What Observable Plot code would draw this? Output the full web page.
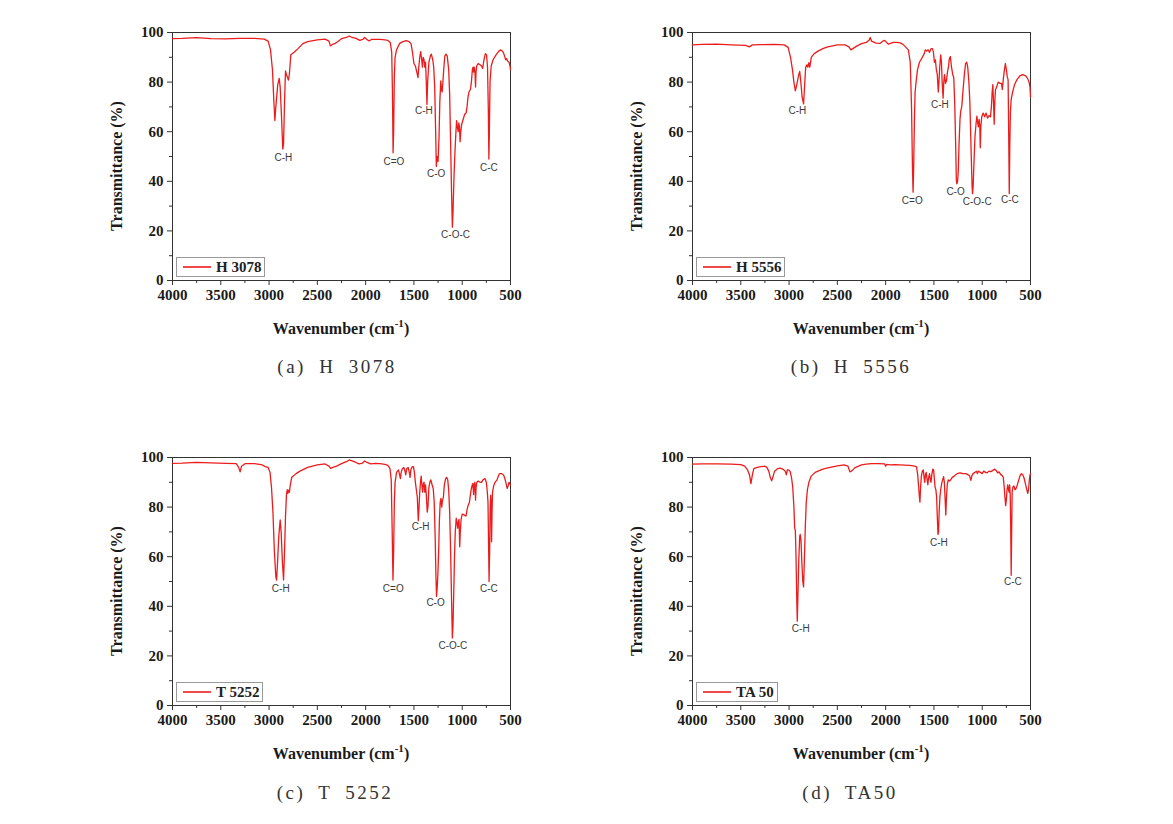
<!DOCTYPE html>
<html><head><meta charset="utf-8">
<script src="https://cdn.jsdelivr.net/npm/d3@7"></script>
<script src="https://cdn.jsdelivr.net/npm/@observablehq/plot@0.6"></script>
<style>
body{margin:0;background:#fff;}
#root{position:relative;width:1173px;height:824px;overflow:hidden;background:#fff;}
.panel{position:absolute;}
.caption{position:absolute;font-family:"Liberation Serif",serif;font-size:19px;color:#333;letter-spacing:2.5px;word-spacing:6px;white-space:pre;transform:translate(-50%,-50%);}
.legend{position:absolute;box-sizing:border-box;border:1px solid #999;background:#fff;display:flex;align-items:center;height:20px;padding:0 3px 0 5px;font-family:"Liberation Serif",serif;font-weight:bold;font-size:15px;color:#222;}
.legend svg{margin-right:4px;}
</style></head><body><div id="root"></div>
<script>
// ---- data (wavenumber cm-1, transmittance %) ----
const xMajor = [4000, 3500, 3000, 2500, 2000, 1500, 1000, 500];
const xMinor = [3750, 3250, 2750, 2250, 1750, 1250, 750];
const yMajor = [0, 20, 40, 60, 80, 100];
const yMinor = [10, 30, 50, 70, 90];

const h3078 = [[4000,97.5],[3900,97.6],[3750,97.9],[3600,97.5],[3450,97.4],[3300,97.6],[3150,97.6],[3050,97.3],[3010,96.5],[2985,93],[2965,85],[2950,72],[2940,64.5],[2930,70],[2910,79],[2895,81.5],[2885,78],[2870,65],[2858,53],[2850,55],[2840,72],[2830,84.5],[2820,83],[2810,82],[2800,80.8],[2790,83],[2775,91],[2740,92],[2700,93.5],[2650,95.5],[2600,96.3],[2500,97],[2420,97.3],[2380,96.5],[2365,94.6],[2345,95.2],[2320,95.5],[2290,96.3],[2250,97.5],[2200,98],[2170,98.6],[2140,98],[2100,97.6],[2060,96.8],[2030,97.2],[2010,98],[1990,97.3],[1965,96.6],[1940,97.2],[1900,97.2],[1850,97.2],[1800,97],[1770,96.8],[1745,96],[1730,92],[1722,75],[1716,51.5],[1710,60],[1703,82],[1695,90],[1680,93],[1650,95.5],[1620,96.2],[1580,96.7],[1550,96.3],[1530,95.5],[1515,92],[1500,87.5],[1485,86.5],[1470,84],[1458,81.8],[1450,86],[1440,90],[1430,92.3],[1420,89],[1412,86],[1405,90],[1395,89],[1388,86],[1380,88],[1372,80],[1365,71],[1358,80],[1345,88],[1330,90.5],[1320,91.3],[1305,89],[1295,86],[1285,78],[1275,60],[1268,46],[1260,50],[1250,48],[1240,58],[1232,72],[1222,80.5],[1215,77],[1208,76],[1200,80],[1190,86],[1180,90.5],[1168,91.3],[1155,90.5],[1140,85],[1130,75],[1120,55],[1110,35],[1102,21.5],[1095,28],[1085,42],[1075,52],[1065,60],[1058,64.5],[1050,62],[1042,60],[1035,63.5],[1028,62],[1022,56],[1015,60],[1005,63],[990,65],[975,67],[960,67.5],[950,70],[940,74],[930,76],[915,77],[905,80],[895,85],[888,86],[882,84],[875,86],[868,84],[862,78],[857,84],[850,86.5],[835,87.5],[815,87],[800,86.5],[788,85.5],[775,89],[760,91.5],[748,91],[738,86],[730,70],[724,49],[718,62],[712,80],[700,86.5],[680,89],[650,91],[620,92.5],[600,93],[580,92.3],[565,91],[550,89],[540,89.5],[530,88.5],[515,88],[505,86.5],[500,85]];

const h5556 = [[4000,95],[3900,95.2],[3750,95.3],[3600,95],[3450,94.8],[3410,94.2],[3380,95],[3300,95.1],[3150,95.2],[3050,95],[3010,94],[2985,90],[2965,85],[2950,80],[2935,76.5],[2920,79],[2900,83],[2890,84.3],[2878,80],[2865,74],[2850,71.2],[2840,78],[2828,86],[2815,87],[2805,86],[2795,87.8],[2785,86],[2770,90],[2740,91.5],[2700,92.5],[2650,93.5],[2600,94.2],[2500,95],[2420,95],[2380,94.2],[2360,93],[2340,93.5],[2300,94.5],[2250,95.5],[2200,96],[2170,97],[2160,98],[2145,96.5],[2100,95.7],[2060,95.6],[2030,96.5],[2010,96.8],[1990,96],[1970,95.3],[1950,95.6],[1920,96],[1880,96],[1850,95.8],[1820,95.2],[1790,94],[1765,93],[1745,88],[1732,70],[1722,45],[1716,35.6],[1710,45],[1702,65],[1695,76],[1685,80],[1670,85],[1650,88],[1620,90],[1600,91.5],[1590,93],[1575,92.5],[1560,93],[1545,92],[1530,93.5],[1515,93.5],[1505,92],[1495,88],[1485,89],[1475,85],[1465,83],[1455,76],[1448,80],[1440,86],[1430,91],[1422,88],[1415,80],[1405,73.5],[1398,80],[1390,83],[1380,79.5],[1370,80.5],[1360,84],[1350,86],[1340,89.5],[1330,90.3],[1318,86],[1305,83],[1295,82],[1285,72],[1275,55],[1268,40.5],[1262,39],[1255,40],[1248,44],[1240,55],[1230,65],[1222,68.5],[1212,70],[1200,76],[1185,83],[1172,87.5],[1160,88],[1150,86],[1138,80],[1128,72],[1120,60],[1112,48],[1105,38],[1100,35],[1094,38],[1085,48],[1075,58],[1062,64],[1055,66.3],[1048,64],[1040,62],[1032,65],[1025,62],[1020,53.5],[1014,62],[1005,66],[990,67.5],[975,66],[960,67.5],[945,65.5],[930,66.5],[915,66],[905,70],[897,76],[890,79],[883,72],[876,63],[870,72],[862,77],[850,78],[835,80],[815,79.5],[800,79.5],[792,77],[782,81],[770,85],[760,87.5],[750,85],[740,82],[732,81],[726,60],[720,35],[714,55],[708,68],[700,73],[685,76],[665,79],[640,81],[610,82.5],[580,83],[550,82.5],[530,81.5],[515,80],[505,78],[500,74]];

const t5252 = [[4000,97.6],[3900,97.7],[3750,98],[3600,97.8],[3450,97.6],[3340,97.5],[3315,96],[3300,94.2],[3285,96.5],[3250,97.5],[3150,97.5],[3070,97],[3040,96.3],[3010,96],[2990,94],[2975,88],[2960,78],[2945,62],[2930,52],[2922,50.6],[2912,58],[2900,68],[2885,74.8],[2875,70],[2862,58],[2850,50.6],[2840,62],[2830,76],[2820,85],[2812,87],[2805,85.5],[2798,86.8],[2790,86],[2780,89],[2765,92],[2720,93.5],[2680,94.5],[2600,96],[2500,97],[2420,97.4],[2380,96.5],[2362,95.6],[2340,96],[2300,96.5],[2250,97.5],[2200,98.3],[2170,99],[2140,98.6],[2100,98],[2070,97.4],[2040,97.6],[2010,98.6],[1985,98],[1950,97.4],[1900,97.6],[1850,97.5],[1800,97.2],[1770,96.8],[1748,95.5],[1735,91],[1725,70],[1717,50.6],[1710,62],[1703,82],[1695,90],[1680,94],[1660,95],[1648,93],[1640,91.5],[1632,94],[1620,95.5],[1605,96],[1595,95],[1585,93],[1575,95.5],[1560,96],[1548,94],[1540,92],[1532,95],[1520,96.2],[1505,96.3],[1495,94],[1485,90],[1475,87],[1465,84],[1455,74.5],[1447,80],[1440,86],[1432,90],[1425,92.5],[1418,89],[1410,86],[1402,89.5],[1395,90],[1388,86],[1380,89],[1372,85],[1362,78],[1355,80],[1345,88],[1335,90],[1325,91],[1312,89],[1300,87.5],[1290,82],[1280,68],[1272,52],[1266,44],[1260,47],[1252,53],[1244,62],[1236,75],[1228,82],[1220,83.5],[1212,80],[1205,82.5],[1195,84],[1185,89],[1172,91.5],[1162,92],[1150,91],[1140,87],[1130,78],[1120,62],[1110,42],[1102,27.2],[1095,33],[1088,45],[1080,60],[1072,70],[1062,75.5],[1055,74],[1047,71.5],[1040,74],[1033,75],[1026,64],[1020,70],[1012,75],[1000,77.2],[985,77],[970,76.5],[960,76.5],[950,79],[940,80.5],[925,82],[912,86],[900,88.5],[890,89.5],[882,85],[875,89.5],[868,90],[862,82.8],[856,88],[848,90],[835,90.5],[815,90],[800,90],[785,91],[765,91.5],[750,90],[740,86],[733,82],[727,65],[722,50],[716,62],[710,80],[705,84.8],[700,82],[696,66],[691,78],[686,86],[675,88.5],[660,90],[640,91],[615,93.5],[590,93.5],[570,92.8],[555,91],[545,89.5],[535,87.5],[525,88.5],[515,90],[508,89.5],[500,89]];

const ta50 = [[4000,97.3],[3900,97.4],[3750,97.4],[3600,97.3],[3500,97.1],[3460,96.5],[3430,95],[3410,93],[3395,89.5],[3380,93],[3365,95.5],[3330,96],[3290,96.3],[3250,96.5],[3230,96],[3210,94.5],[3195,92],[3180,90.6],[3165,92.5],[3150,94.5],[3120,95.5],[3090,95.7],[3060,95.2],[3040,94.5],[3028,93],[3018,95],[3005,95],[2990,94.5],[2975,92],[2962,88],[2950,80],[2942,71.5],[2935,70.5],[2928,60],[2920,42],[2915,34],[2908,45],[2900,58],[2890,68],[2885,69],[2877,67],[2868,58],[2858,50],[2850,47.8],[2842,58],[2832,72],[2822,82],[2810,87],[2795,90],[2770,92.5],[2730,94],[2700,94.5],[2650,95.3],[2600,95.8],[2500,96.6],[2430,97],[2390,96.5],[2370,94.2],[2350,94.6],[2320,95.8],[2280,96.5],[2250,97],[2200,97.3],[2150,97.5],[2080,97.5],[2010,97.4],[2000,96.5],[1990,97.2],[1950,97],[1900,97.1],[1850,97],[1800,96.9],[1750,96.8],[1700,96.5],[1680,96.2],[1668,93],[1658,88],[1650,84],[1645,82],[1638,88],[1630,92.5],[1620,94.5],[1610,95],[1602,92],[1595,90],[1588,93],[1580,94],[1572,91.5],[1563,89],[1555,92],[1545,93.5],[1537,91],[1530,90],[1522,93],[1512,95.3],[1503,95],[1495,91],[1488,88],[1480,87],[1472,84],[1465,76],[1458,69],[1452,70],[1446,78],[1438,84],[1430,87],[1420,89.5],[1410,91],[1400,92.3],[1392,90],[1385,84],[1377,76.8],[1370,84],[1362,89],[1352,91],[1340,90.5],[1330,90.8],[1310,92],[1290,92.5],[1260,93.5],[1230,93.8],[1200,93.5],[1170,93.5],[1145,93],[1130,92.5],[1118,90.8],[1108,92.5],[1095,93.5],[1075,94],[1060,94.5],[1050,93.5],[1040,94.5],[1020,94],[1000,93.5],[985,94.5],[965,94],[950,93.8],[930,94.5],[910,94.3],[890,94.8],[870,95.3],[855,94.8],[840,93.8],[825,94.2],[810,93.2],[795,92.8],[782,92],[772,88],[765,84],[757,80.6],[750,83],[743,87],[735,89],[728,87],[722,86],[716,89],[710,85],[705,72],[700,52.5],[695,70],[690,86],[683,88],[672,88.5],[660,87],[650,87.5],[640,88.5],[625,90.5],[610,92.5],[595,93.5],[580,93],[565,91.5],[550,89],[538,87],[528,85.5],[520,87],[512,91],[505,93],[500,93.5]];

// band labels: [wavenumber, transmittance, text]
const labelsA = [[2852,49.4,"C-H"],[1707,47.9,"C=O"],[1397,68.5,"C-H"],[1270,43,"C-O"],[1069,18.5,"C-O-C"],[724,45.6,"C-C"]];
const labelsB = [[2914,68.5,"C-H"],[1724,32.2,"C=O"],[1438,70.9,"C-H"],[1276,35.8,"C-O"],[1052,31.8,"C-O-C"],[714,32.5,"C-C"]];
const labelsC = [[2879,47,"C-H"],[1714,47.2,"C=O"],[1431,72,"C-H"],[1276,41.5,"C-O"],[1097,24.2,"C-O-C"],[724,47.2,"C-C"]];
const labelsD = [[2879,30.9,"C-H"],[1448,65.8,"C-H"],[683,49.7,"C-C"]];

const names = ["H 3078", "H 5556", "T 5252", "TA 50"];
const captions = ["(a) H 3078", "(b) H 5556", "(c) T 5252", "(d) TA50"];
const xTitle = ["Wavenumber (cm", "-1", ")"];
const yTitle = "Transmittance (%)";

// ---- drawing ----
const root = document.getElementById("root");
const RED = "#ec1c1c";

function panel(series, labels, name, caption, left, top, capX, capY) {
  const data = series.map(([wn, t]) => ({wn, t}));
  const lab = labels.map(([wn, t, text]) => ({wn, t, text}));
  const svg = Plot.plot({
    width: 430, height: 330,
    marginLeft: 72, marginRight: 20, marginTop: 12, marginBottom: 70,
    style: {fontFamily: "Liberation Serif", background: "transparent", overflow: "visible"},
    x: {domain: [4000, 500]},
    y: {domain: [0, 100]},
    marks: [
      Plot.axisX({ticks: xMinor, tickSize: 3, tickFormat: () => "", label: null, stroke: "#333"}),
      Plot.axisX({ticks: xMajor, tickSize: 5, tickPadding: 4, label: null, tickFormat: d => String(d),
        fontSize: 15, fontWeight: "bold", fontFamily: "Liberation Serif", stroke: "#333", fill: "#1a1a1a"}),
      Plot.axisY({ticks: yMinor, tickSize: 3, tickFormat: () => "", label: null, stroke: "#333"}),
      Plot.axisY({ticks: yMajor, tickSize: 5, tickPadding: 4, label: null, tickFormat: d => String(d),
        fontSize: 15, fontWeight: "bold", fontFamily: "Liberation Serif", stroke: "#333", fill: "#1a1a1a"}),
      Plot.frame({stroke: "#333", strokeWidth: 1}),
      Plot.line(data, {x: "wn", y: "t", stroke: RED, strokeWidth: 1.3}),
      Plot.text(lab, {x: "wn", y: "t", text: "text", fontFamily: "Liberation Sans", fontSize: 10, fill: "#3a3a3a"})
    ]
  });
  const s = d3.select(svg);
  // axis titles
  const xt = s.append("text").attr("x", 72 + 169).attr("y", 314).attr("text-anchor", "middle")
    .attr("font-family", "Liberation Serif").attr("font-weight", "bold").attr("font-size", 16).attr("fill", "#1a1a1a");
  xt.append("tspan").text(xTitle[0]);
  xt.append("tspan").attr("dy", -7).attr("font-size", 11).text(xTitle[1]);
  xt.append("tspan").attr("dy", 7).text(xTitle[2]);
  s.append("text").attr("transform", `translate(22,146) rotate(-90)`).attr("text-anchor", "middle")
    .attr("font-family", "Liberation Serif").attr("font-weight", "bold").attr("font-size", 16).attr("fill", "#1a1a1a")
    .text(yTitle);

  const wrap = document.createElement("div");
  wrap.className = "panel";
  wrap.style.left = left + "px";
  wrap.style.top = top + "px";
  wrap.appendChild(svg);
  root.appendChild(wrap);

  // legend
  const lg = document.createElement("div");
  lg.className = "legend";
  lg.style.left = (left + 76) + "px";
  lg.style.top = (top + 237) + "px";
  lg.innerHTML = `<svg width="30" height="6"><line x1="1" y1="3" x2="29" y2="3" stroke="${RED}" stroke-width="1.6"/></svg><span>${name}</span>`;
  root.appendChild(lg);

  // caption
  const cap = document.createElement("div");
  cap.className = "caption";
  cap.style.left = capX + "px";
  cap.style.top = capY + "px";
  cap.textContent = caption;
  root.appendChild(cap);
}

panel(h3078, labelsA, names[0], captions[0], 100, 20, 337, 367);
panel(h5556, labelsB, names[1], captions[1], 620, 20, 851, 367);
panel(t5252, labelsC, names[2], captions[2], 100, 445, 335, 793);
panel(ta50, labelsD, names[3], captions[3], 620, 445, 850, 793);
</script></body></html>
